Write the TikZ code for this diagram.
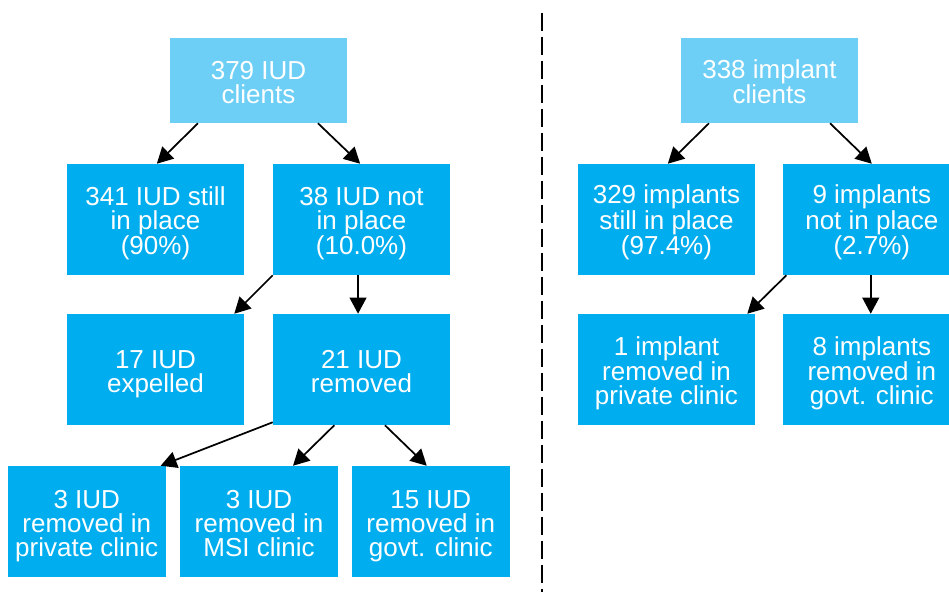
\documentclass[tikz,border=0pt]{standalone}
\usepackage{fontspec}
\setmainfont{Liberation Sans}
\usepackage{tikz}
\usetikzlibrary{arrows.meta}
\definecolor{boxblue}{RGB}{0, 174, 239}
\definecolor{topblue}{RGB}{109, 207, 246}

\begin{document}
\begin{tikzpicture}[x=0.75pt, y=-0.75pt,
    box/.style={fill=boxblue, text=white, align=center, inner sep=0pt,
      minimum width=132.75pt, minimum height=83.25pt,
      text height=53pt, text depth=0pt,
      font=\fontsize{19.5}{18}\selectfont},
    twobox/.style={box, text height=35pt},
    topbox/.style={twobox, fill=topblue, minimum height=63.75pt},
    smallbox/.style={box, minimum width=118.5pt},
    arr/.style={-{Triangle[length=12pt, width=12.5pt]}, line width=1.3pt}]
    \useasboundingbox (0,0) rectangle (949,592);
    \clip (0,0) rectangle (949,592);
    % IUD side
    \node (iud) at (258.5,80.5) [topbox] {379 IUD\\clients};
    \node (still) at (155.5,219.5) [box] {341 IUD still\\in place\\(90\%)};
    \node (notin) at (361.5,219.5) [box] {38 IUD not\\in place\\(10.0\%)};
    \node (expel) at (155.5,369.5) [twobox] {17 IUD\\expelled};
    \node (removed) at (361.5,369.5) [twobox] {21 IUD\\removed};
    \node (priv) at (86.75,521.5) [smallbox] {3 IUD\\removed in\\private clinic};
    \node (msi) at (259,521.5) [smallbox] {3 IUD\\removed in\\MSI clinic};
    \node (govt) at (430.75,521.5) [smallbox] {15 IUD\\removed in\\govt. clinic};
    \draw[arr] ([xshift=-45.4pt]iud.south) -- ([xshift=1pt]still.north);
    \draw[arr] ([xshift=44.6pt]iud.south) -- ([xshift=-1pt]notin.north);
    \draw[arr] (notin.south west) -- ([xshift=-7.5pt]expel.north east);
    \draw[arr] ([xshift=-2.6pt]notin.south) -- ([xshift=-2.6pt]removed.north);
    \draw[arr] ([yshift=2.25pt]removed.south west) -- ([xshift=-4pt]priv.north east);
    \draw[arr] ([xshift=-20.4pt]removed.south) -- ([xshift=25.5pt]msi.north);
    \draw[arr] ([xshift=17.6pt]removed.south) -- ([xshift=-3pt]govt.north);
    % divider
    \coordinate (divtop) at (541.5,13);
    \coordinate (divbot) at (541.5,592);
    \draw[line width=1.5pt, dash pattern=on 13.5pt off 4.5pt] (divtop) -- (divbot);
    % implant side
    \node (impl) at (769.5,80.5) [topbox] {338 implant\\clients};
    \node (istill) at (666.5,219.5) [box] {329 implants\\still in place\\(97.4\%)};
    \node (inot) at (871.8,219.5) [box] {9 implants\\not in place\\(2.7\%)};
    \node (iprivate) at (666.5,369.5) [box] {1 implant\\removed in\\private clinic};
    \node (igovt) at (871.8,369.5) [box] {8 implants\\removed in\\govt. clinic};
    \draw[arr] ([xshift=-45.4pt]impl.south) -- ([xshift=1pt]istill.north);
    \draw[arr] ([xshift=45.4pt]impl.south) -- (inot.north);
    \draw[arr] ([xshift=2.5pt]inot.south west) -- ([xshift=-6pt]iprivate.north east);
    \draw[arr] ([xshift=-0.8pt]inot.south) -- ([xshift=-0.8pt]igovt.north);
\end{tikzpicture}
\end{document}
